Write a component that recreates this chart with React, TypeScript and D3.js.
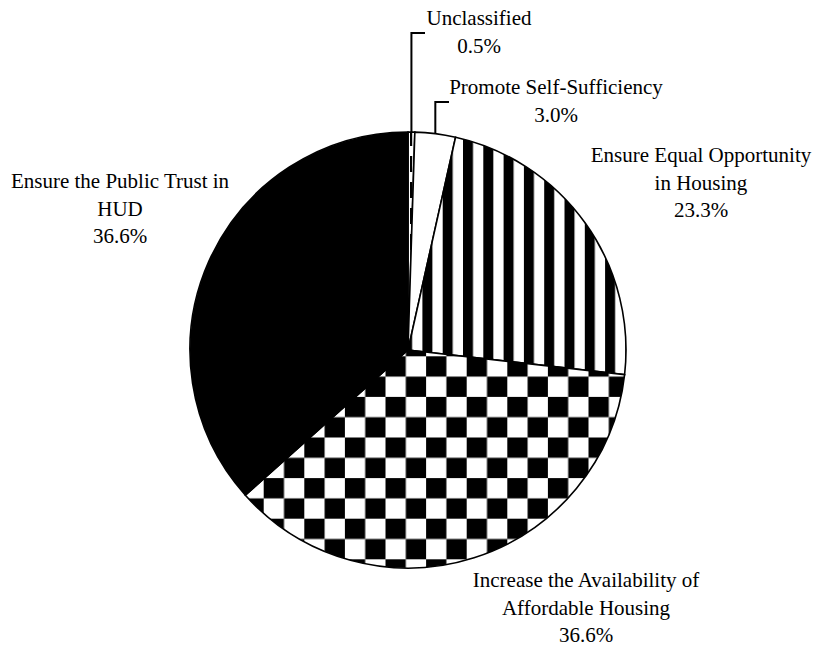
import { useMemo } from 'react';
import * as d3 from 'd3';

// goal categories and their share of the total (percent)
const categories = [
  'Unclassified',
  'Promote Self-Sufficiency',
  'Ensure Equal Opportunity in Housing',
  'Increase the Availability of Affordable Housing',
  'Ensure the Public Trust in HUD',
];
const shares = [0.5, 3.0, 23.3, 36.6, 36.6];
const shareLabels = ['0.5%', '3.0%', '23.3%', '36.6%', '36.6%'];
// label text broken into lines as on the original
const labelLines = [
  ['Unclassified'],
  ['Promote Self-Sufficiency'],
  ['Ensure Equal Opportunity', 'in Housing'],
  ['Increase the Availability of', 'Affordable Housing'],
  ['Ensure the Public Trust in', 'HUD'],
];
const fills = ['url(#dash)', '#fff', 'url(#stripes)', 'url(#checker)', '#000'];

const W = 813;
const H = 649;
const cx = 408;
const cy = 350;
const R = 218;
const FONT = "'Liberation Serif', Tinos, 'Times New Roman', Times, 'DejaVu Serif', serif";
const LINE = 27.5;

// label anchor (centre x, first baseline y) for each slice
const labelPos: [number, number][] = [
  [479, 25],
  [556, 94],
  [701, 162],
  [586, 587],
  [120, 188],
];

export default function App() {
  const slices = useMemo(
    () =>
      d3
        .pie<number>()
        .sort(null)
        .value((d) => d)(shares),
    []
  );
  const arc = d3.arc<d3.PieArcDatum<number>>().innerRadius(0).outerRadius(R);

  // leader lines for the two small slices
  const leader = (i: number, topY: number, endX: number) => {
    const s = slices[i];
    const a = (s.startAngle + s.endAngle) / 2;
    const x = cx + R * Math.sin(a);
    const y = cy - R * Math.cos(a);
    return d3.line()([
      [x, y],
      [x, topY],
      [endX, topY],
    ]) as string;
  };

  const sq = 20.3;

  return (
    <svg
      width={W}
      height={H}
      style={{ position: 'absolute', left: 0, top: 0, background: '#fff' }}
    >
      <defs>
        <pattern id="stripes" patternUnits="userSpaceOnUse" x={461} y={0} width={20.3} height={20}>
          <rect x={0} y={0} width={20.3} height={20} fill="#fff" />
          <rect x={0} y={0} width={10} height={20} fill="#000" />
        </pattern>
        <pattern id="checker" patternUnits="userSpaceOnUse" x={261.7} y={371.7} width={sq * 2} height={sq * 2}>
          <rect x={0} y={0} width={sq * 2} height={sq * 2} fill="#fff" />
          <rect x={0} y={0} width={sq} height={sq} fill="#000" />
          <rect x={sq} y={sq} width={sq} height={sq} fill="#000" />
        </pattern>
        <pattern id="dash" patternUnits="userSpaceOnUse" x={410} y={138} width={8} height={26}>
          <rect x={0} y={0} width={8} height={26} fill="#fff" />
          <rect x={0} y={6} width={2.2} height={16} fill="#000" />
        </pattern>
      </defs>

      <g transform={`translate(${cx},${cy})`}>
        {slices.map((s, i) => (
          <path
            key={categories[i]}
            d={arc(s) as string}
            fill={fills[i]}
            stroke="#000"
            strokeWidth={1.6}
          />
        ))}
      </g>

      <path d={leader(0, 33, 425)} fill="none" stroke="#000" strokeWidth={2} />
      <path d={leader(1, 102, 449)} fill="none" stroke="#000" strokeWidth={2} />

      {labelLines.map((lines, i) => {
        const [lx, ly] = labelPos[i];
        const all = [...lines, shareLabels[i]];
        return (
          <text
            key={categories[i]}
            x={lx}
            y={ly}
            textAnchor="middle"
            style={{ fontFamily: FONT, fontSize: '21px' }}
            fill="#000"
          >
            {all.map((t, j) => (
              <tspan key={j} x={lx} y={ly + j * LINE}>
                {t}
              </tspan>
            ))}
          </text>
        );
      })}
    </svg>
  );
}
